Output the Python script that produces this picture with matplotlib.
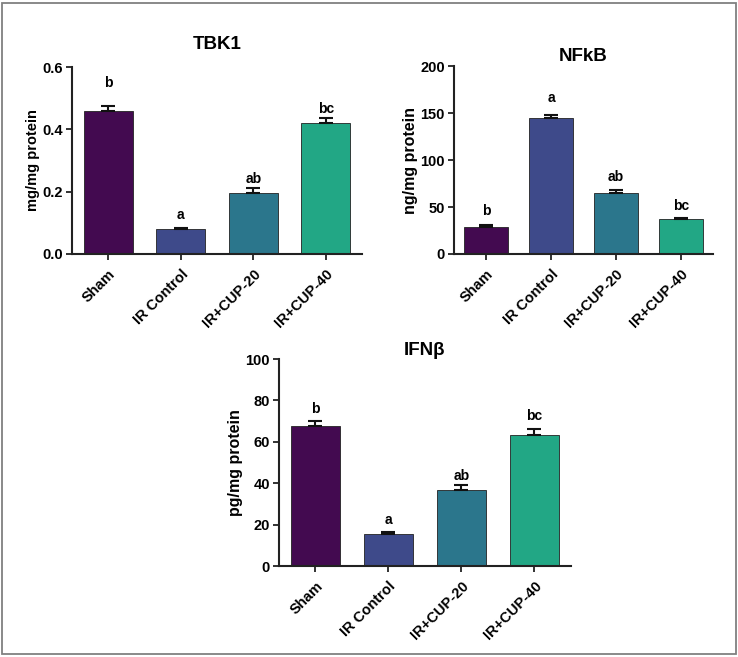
import matplotlib
matplotlib.use("Agg")
import matplotlib.pyplot as plt
from matplotlib.patches import Rectangle

groups = ["Sham", "IR Control", "IR+CUP-20", "IR+CUP-40"]
colors = ["#430a50", "#3e4a8a", "#2b768c", "#22a785"]

tbk1_mean = [0.46, 0.08, 0.195, 0.42]
tbk1_err = [0.014, 0.005, 0.017, 0.016]
tbk1_sig = ["b", "a", "ab", "bc"]
tbk1_sig_y = [0.55, 0.125, 0.24, 0.465]

nfkb_mean = [29, 145, 64.5, 37]
nfkb_err = [2, 3, 3.5, 1.2]
nfkb_sig = ["b", "a", "ab", "bc"]
nfkb_sig_y = [46, 166, 82, 51]

ifnb_mean = [67.5, 15.5, 36.5, 63.5]
ifnb_err = [2.5, 1.0, 2.5, 2.5]
ifnb_sig = ["b", "a", "ab", "bc"]
ifnb_sig_y = [76, 22, 43.5, 72.5]

plt.rcParams["font.family"] = ["Liberation Sans", "DejaVu Sans"]
plt.rcParams["font.weight"] = "bold"

fig = plt.figure(figsize=(7.38, 6.57), dpi=100)
fig.patches.append(Rectangle((0.003, 0.004), 0.994, 0.992, transform=fig.transFigure,
                             fill=False, edgecolor="#808080", linewidth=1.3))


def panel(rect, means, errs, sigs, sig_y, title, ylabel, ylim, yticks, fmt, pad, ylsize):
    ax = fig.add_axes(rect)
    x = list(range(len(groups)))
    ax.bar(x, means, width=0.68, color=colors, edgecolor="#222222", linewidth=0.6, zorder=2)
    ax.errorbar(x, means, yerr=[[0] * len(errs), errs], fmt="none", ecolor="#111111",
                elinewidth=1.5, capsize=5, capthick=1.5, zorder=3)
    for xi, s, yy in zip(x, sigs, sig_y):
        ax.text(xi, yy, s, ha="center", va="center", fontsize=10, fontweight="bold")
    ax.set_xlim(-0.5, 3.5)
    ax.set_ylim(*ylim)
    ax.set_yticks(yticks)
    ax.set_yticklabels([fmt.format(v) for v in yticks])
    ax.set_xticks(x)
    ax.set_xticklabels(groups, rotation=45, ha="right", rotation_mode="anchor")
    ax.tick_params(axis="both", labelsize=10.5, width=1.3, length=4.5, color="#222222")
    ax.tick_params(axis="y", pad=2)
    ax.tick_params(axis="x", pad=5)
    for lab in ax.get_xticklabels() + ax.get_yticklabels():
        lab.set_fontweight("bold")
    for side in ["top", "right"]:
        ax.spines[side].set_visible(False)
    for side in ["left", "bottom"]:
        ax.spines[side].set_linewidth(1.5)
        ax.spines[side].set_color("#222222")
    ax.set_ylabel(ylabel, fontsize=ylsize, fontweight="bold", labelpad=2)
    ax.set_title(title, fontsize=13.5, fontweight="bold", pad=pad)
    return ax


panel([0.0976, 0.6134, 0.393, 0.2846], tbk1_mean, tbk1_err, tbk1_sig, tbk1_sig_y,
      "TBK1", "mg/mg protein", (0, 0.6), [0.0, 0.2, 0.4, 0.6], "{:.1f}", 13, 10.5)
panel([0.6152, 0.6134, 0.351, 0.286], nfkb_mean, nfkb_err, nfkb_sig, nfkb_sig_y,
      "NFkB", "ng/mg protein", (0, 200), [0, 50, 100, 150, 200], "{:d}", 4, 11.5)
panel([0.378, 0.1385, 0.3957, 0.315], ifnb_mean, ifnb_err, ifnb_sig, ifnb_sig_y,
      "IFNβ", "pg/mg protein", (0, 100), [0, 20, 40, 60, 80, 100], "{:d}", 2, 11.5)

fig.savefig("out.png", dpi=100)
